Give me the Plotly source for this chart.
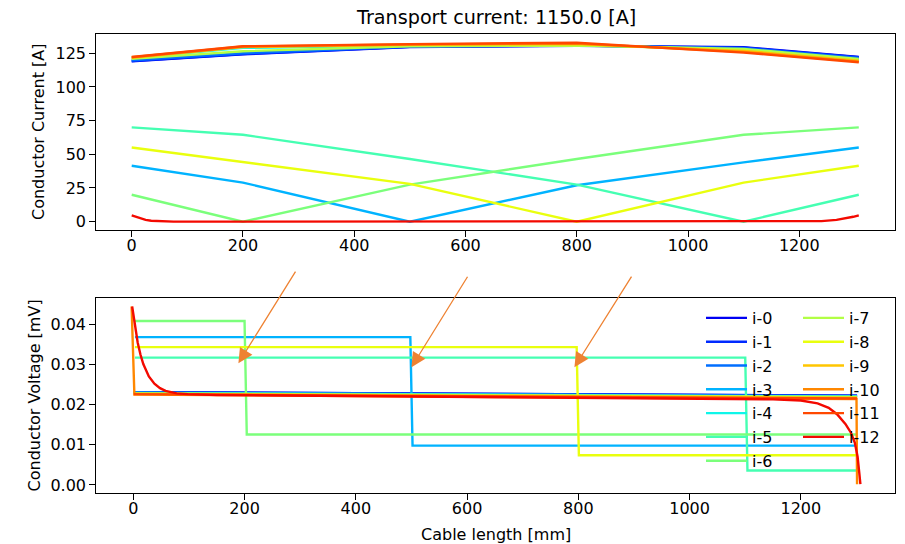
import plotly.graph_objects as go

FONT = "DejaVu Sans"

# Conductor names and their jet-map colours
labels = ["i-0", "i-1", "i-2", "i-3", "i-4", "i-5", "i-6",
          "i-7", "i-8", "i-9", "i-10", "i-11", "i-12"]
colors = ["#0000f3", "#002aff", "#006eff", "#00b3ff", "#0ef6e9", "#45ffb2",
          "#7bff7b", "#b2ff45", "#e9ff0e", "#ffc600", "#ff8700", "#ff4800",
          "#f30900"]

transport_current = 1150.0

# ---- conductor current [A] along the cable length [mm] ----
x_cur = [0, 200, 500, 800, 1100, 1307]
cur_i0 = [119.0, 124.2, 129.6, 130.6, 129.5, 122.3]
cur_i1 = [119.3, 124.5, 129.8, 130.7, 129.2, 122.0]
cur_i2 = [119.8, 125.0, 130.0, 130.8, 128.8, 121.5]
cur_i3 = [41.5, 29.0, 0.0, 27.0, 44.0, 55.0]
cur_i4 = [121.4, 129.0, 130.8, 131.2, 127.5, 120.0]
cur_i5 = [70.0, 64.5, 46.5, 27.5, 0.0, 20.0]
cur_i6 = [20.0, 0.0, 27.5, 46.5, 64.5, 70.0]
cur_i7 = [120.8, 126.5, 130.2, 130.8, 128.2, 120.8]
cur_i8 = [55.0, 44.0, 28.0, 0.0, 29.0, 41.5]
cur_i9 = [121.7, 129.6, 131.2, 131.8, 126.8, 119.5]
cur_i10 = [122.0, 130.0, 131.5, 132.3, 126.0, 118.8]
cur_i11 = [122.2, 130.2, 131.8, 132.8, 125.5, 118.3]
x_cur_i12 = [0, 8, 15, 25, 35, 50, 75, 200, 500, 800, 1100,
             1200, 1240, 1267, 1285, 1297, 1307]
cur_i12 = [4.7, 3.5, 2.5, 1.3, 0.7, 0.25, 0.05, 0.0, 0.0, 0.0, 0.0,
           0.1, 0.4, 1.3, 2.5, 3.6, 4.7]

# ---- conductor voltage [mV] along the cable length [mm] ----
x_volt_flat = [1, 650, 1301]
volt_i0 = [0.0231, 0.0227, 0.0222]
volt_i1 = [0.0231, 0.0227, 0.0222]
volt_i2 = [0.0230, 0.0226, 0.0221]
volt_i4 = [0.0229, 0.0225, 0.0220]
volt_i7 = [0.0228, 0.0224, 0.0219]
volt_i9 = [0.0227, 0.0222, 0.0217]
volt_i11 = [0.0226, 0.0221, 0.0215]

x_volt_i3 = [3, 498, 502, 1299]
volt_i3 = [0.0368, 0.0368, 0.0098, 0.0098]
x_volt_i5 = [3, 1100, 1104, 1299]
volt_i5 = [0.0317, 0.0317, 0.0036, 0.0036]
x_volt_i6 = [3, 200, 204, 1299]
volt_i6 = [0.0408, 0.0408, 0.01257, 0.01257]
x_volt_i8 = [3, 797, 801, 1299]
volt_i8 = [0.0343, 0.0343, 0.0074, 0.0074]

x_volt_i10 = [-3, 2, 650, 1300, 1301]
volt_i10 = [0.0444, 0.0225, 0.0219, 0.0214, 0.0002]

x_volt_i12 = [-2, 3, 8, 13, 18, 28, 38, 48, 58, 78, 98, 150, 650,
              1150, 1200, 1230, 1250, 1265, 1280, 1290, 1297, 1302, 1305, 1307]
volt_i12 = [0.0444, 0.0393, 0.0354, 0.0324, 0.0301, 0.0270, 0.0252, 0.0241,
            0.0234, 0.0228, 0.0226, 0.0224, 0.0219, 0.0213, 0.0210, 0.0203,
            0.0192, 0.0176, 0.0152, 0.0130, 0.0105, 0.0070, 0.0030, 0.0002]

# arrows marking where the voltage steps begin (tip in data units, tail offset in px)
arrow_tips_x = [189, 500, 793]
arrow_tips_y = [0.0303, 0.0293, 0.0293]
arrow_tail_dx = [58, 57, 58]
arrow_tail_dy = [-93, -92, -92]

current_series = [
    (x_cur, cur_i0), (x_cur, cur_i1), (x_cur, cur_i2), (x_cur, cur_i3),
    (x_cur, cur_i4), (x_cur, cur_i5), (x_cur, cur_i6), (x_cur, cur_i7),
    (x_cur, cur_i8), (x_cur, cur_i9), (x_cur, cur_i10), (x_cur, cur_i11),
    (x_cur_i12, cur_i12),
]
voltage_series = [
    (x_volt_flat, volt_i0), (x_volt_flat, volt_i1), (x_volt_flat, volt_i2),
    (x_volt_i3, volt_i3), (x_volt_flat, volt_i4), (x_volt_i5, volt_i5),
    (x_volt_i6, volt_i6), (x_volt_flat, volt_i7), (x_volt_i8, volt_i8),
    (x_volt_flat, volt_i9), (x_volt_i10, volt_i10), (x_volt_flat, volt_i11),
    (x_volt_i12, volt_i12),
]

LW = 2.4
fig = go.Figure()

for k, (xs, ys) in enumerate(current_series):
    fig.add_trace(go.Scatter(
        x=xs, y=ys, mode="lines", name=labels[k], showlegend=False,
        line=dict(color=colors[k], width=LW), xaxis="x", yaxis="y",
    ))

for k, (xs, ys) in enumerate(voltage_series):
    fig.add_trace(go.Scatter(
        x=xs, y=ys, mode="lines", name=labels[k],
        line=dict(color=colors[k], width=LW), xaxis="x2", yaxis="y2",
        legend="legend" if k < 7 else "legend2",
    ))

W, H = 905, 544
ML, MR, MT, MB = 96, 10, 34, 51
PW, PH = W - ML - MR, H - MT - MB


def px_x(p):
    return (p - ML) / PW


def px_y(p):
    return (H - MB - p) / PH


axis_common = dict(
    showline=True, mirror=True, linecolor="black", linewidth=1.3,
    ticks="outside", ticklen=5.6, tickwidth=1.3, tickcolor="black",
    showgrid=False, zeroline=False,
    tickfont=dict(family=FONT, size=16, color="black"),
)

tick_x = [0, 200, 400, 600, 800, 1000, 1200]

legend_common = dict(
    xanchor="left", yanchor="top", bgcolor="rgba(0,0,0,0)", borderwidth=0,
    itemwidth=41, font=dict(family=FONT, size=16, color="black"),
)

fig.update_layout(
    width=W, height=H,
    margin=dict(l=ML, r=MR, t=MT, b=MB),
    paper_bgcolor="white", plot_bgcolor="white",
    font=dict(family=FONT, size=16, color="black"),
    xaxis=dict(domain=[0, 1], anchor="y", range=[-64.2, 1372.1],
               tickvals=tick_x, ticklabelstandoff=-5, **axis_common),
    yaxis=dict(domain=[px_y(230), 1], anchor="x", range=[-6.2, 139.3],
               tickvals=[0, 25, 50, 75, 100, 125], **axis_common),
    xaxis2=dict(domain=[0, 1], anchor="y2", range=[-67.0, 1369.2],
                tickvals=tick_x, ticklabelstandoff=-5, **axis_common),
    yaxis2=dict(domain=[0, px_y(297.7)], anchor="x2", range=[-0.0020, 0.0466],
                tickvals=[0.0, 0.01, 0.02, 0.03, 0.04], tickformat=".2f",
                **axis_common),
    legend=dict(x=px_x(701), y=px_y(301), **legend_common),
    legend2=dict(x=px_x(798), y=px_y(301), **legend_common),
)

annotations = [
    dict(text=f"Transport current: {transport_current:.1f} [A]",
         xref="paper", yref="paper", x=0.5, y=px_y(18),
         xanchor="center", yanchor="middle", showarrow=False,
         font=dict(family=FONT, size=19.2, color="black")),
    dict(text="Conductor Current [A]", xref="paper", yref="paper",
         x=px_x(38), y=px_y(132), textangle=-90, xanchor="center",
         yanchor="middle", showarrow=False,
         font=dict(family=FONT, size=16, color="black")),
    dict(text="Conductor Voltage [mV]", xref="paper", yref="paper",
         x=px_x(34), y=px_y(395.4), textangle=-90, xanchor="center",
         yanchor="middle", showarrow=False,
         font=dict(family=FONT, size=16, color="black")),
    dict(text="Cable length [mm]", xref="paper", yref="paper",
         x=0.5, y=px_y(534), xanchor="center", yanchor="middle",
         showarrow=False, font=dict(family=FONT, size=16, color="black")),
]
for tx, ty, dx, dy in zip(arrow_tips_x, arrow_tips_y, arrow_tail_dx, arrow_tail_dy):
    annotations.append(dict(
        x=tx, y=ty, xref="x2", yref="y2", ax=dx, ay=dy, text="",
        showarrow=True, arrowhead=2, arrowsize=2.25, arrowwidth=1.3,
        arrowcolor="#ee8232", standoff=0,
    ))
fig.update_layout(annotations=annotations)

fig.write_html("out.html")
